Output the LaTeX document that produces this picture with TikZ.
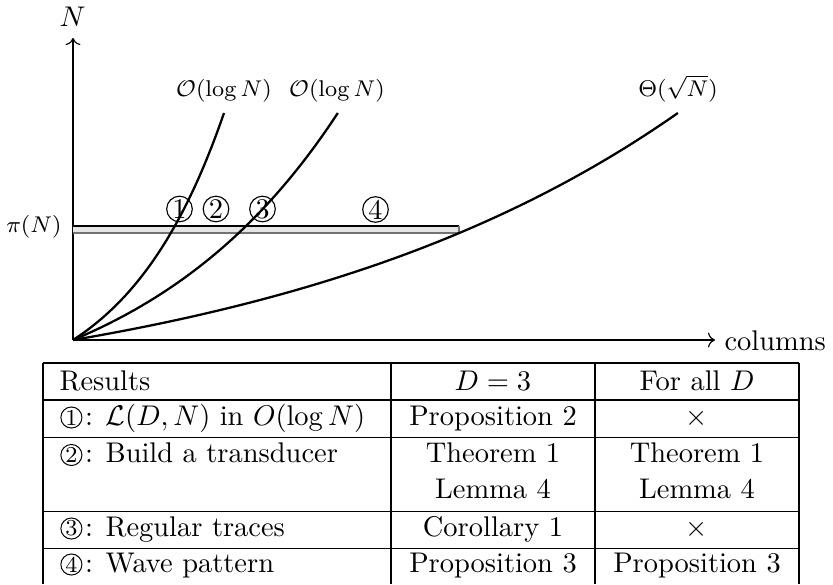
\documentclass[tikz,border=0pt]{standalone}
\usetikzlibrary{arrows.meta}
\begin{document}
\begin{tikzpicture}[x=0.3514pt,y=-0.3514pt,
  curve/.style={thick},
  axis/.style={line width=0.4pt,->},
  gridline/.style={line width=0.45pt},
  pcirc/.style={circle,draw,line width=0.4pt,inner sep=0pt,minimum size=9pt},
  tcirc/.style={circle,draw,line width=0.35pt,inner sep=0pt,minimum size=7.4pt,font=\footnotesize},
  lbl/.style={font=\footnotesize,inner sep=0pt},
  cell/.style={inner sep=0pt,anchor=base},
  lcell/.style={inner sep=0pt,anchor=base west}]
\useasboundingbox (0,0) rectangle (833,584);
% axes
\coordinate (O) at (73,340);
\coordinate (Ytip) at (73,38);
\coordinate (Xtip) at (715,340);
\draw[axis] (O) -- (Ytip);
\draw[axis] (O) -- (Xtip);
\node[inner sep=0pt,anchor=base] (Nlab) at (72.5,26.5) {$N$};
\node[inner sep=0pt,anchor=base west] (collab) at (724,350) {columns};
% bar
\fill[gray!20] (73,226) rectangle (459,233);
\draw[line width=0.4pt] (73,226) -- (459,226);
\draw[line width=0.7pt,black!55] (73,232.6) -- (459,232.6) -- (459,226);
\node[lbl,anchor=base east] (pi) at (62,232) {$\pi(N)$};
% curves
\draw[curve] plot[domain=0:227,samples=60,smooth] ({73+100.5*ln(1+\x/65)},{340-\x});
\draw[curve] plot[domain=0:227,samples=60,smooth] ({73+205*ln(1+\x/86)},{340-\x});
\draw[curve] plot[domain=0:227,samples=60,smooth] ({73+428*ln(1+\x/73)},{340-\x});
\node[lbl,anchor=base] (l1) at (224,96.5) {$\mathcal{O}(\log N)$};
\node[lbl,anchor=base] (l2) at (337,96.5) {$\mathcal{O}(\log N)$};
\node[lbl,anchor=base] (l3) at (678,96.5) {$\Theta(\sqrt{N})$};
% circled numbers on the plot
\node[pcirc] (c1) at (179.5,209) {1};
\node[pcirc] (c2) at (216,209) {2};
\node[pcirc] (c3) at (262.5,209) {3};
\node[pcirc] (c4) at (375.5,209.5) {4};
% table grid
\draw[gridline] (43,363) -- (799,363);
\draw[gridline] (43,400) -- (799,400);
\draw[gridline] (43,437.3) -- (799,437.3);
\draw[gridline] (43,511.5) -- (799,511.5);
\draw[gridline] (43,548.3) -- (799,548.3);
\draw[gridline] (43,363) -- (43,584);
\draw[gridline] (391,363) -- (391,584);
\draw[gridline] (595,363) -- (595,584);
\draw[gridline] (799,363) -- (799,584);
% header
\node[lcell] (h1) at (59,390) {Results};
\node[cell] (h2) at (493,390) {$D=3$};
\node[cell] (h3) at (697,390) {For all $D$};
% row 1
\node[tcirc] (t1) at (71.4,417.5) {1};
\node[lcell] (r1a) at (84.5,425) {: $\mathcal{L}(D,N)$ in $O(\log N)$};
\node[cell] (r1b) at (493,425) {Proposition 2};
\node[cell] (r1c) at (697,425) {$\times$};
% row 2
\node[tcirc] (t2) at (71.4,455) {2};
\node[lcell] (r2a) at (84.5,462.5) {: Build a transducer};
\node[cell] (r2b) at (493,462.5) {Theorem 1};
\node[cell] (r2c) at (697,462.5) {Theorem 1};
\node[cell] (r2d) at (493,498.5) {Lemma 4};
\node[cell] (r2e) at (697,498.5) {Lemma 4};
% row 3
\node[tcirc] (t3) at (71.4,528.5) {3};
\node[lcell] (r3a) at (84.5,536) {: Regular traces};
\node[cell] (r3b) at (493,536) {Corollary 1};
\node[cell] (r3c) at (697,536) {$\times$};
% row 4
\node[tcirc] (t4) at (71.4,564.5) {4};
\node[lcell] (r4a) at (84.5,572) {: Wave pattern};
\node[cell] (r4b) at (493,572) {Proposition 3};
\node[cell] (r4c) at (697,572) {Proposition 3};
\end{tikzpicture}
\end{document}
